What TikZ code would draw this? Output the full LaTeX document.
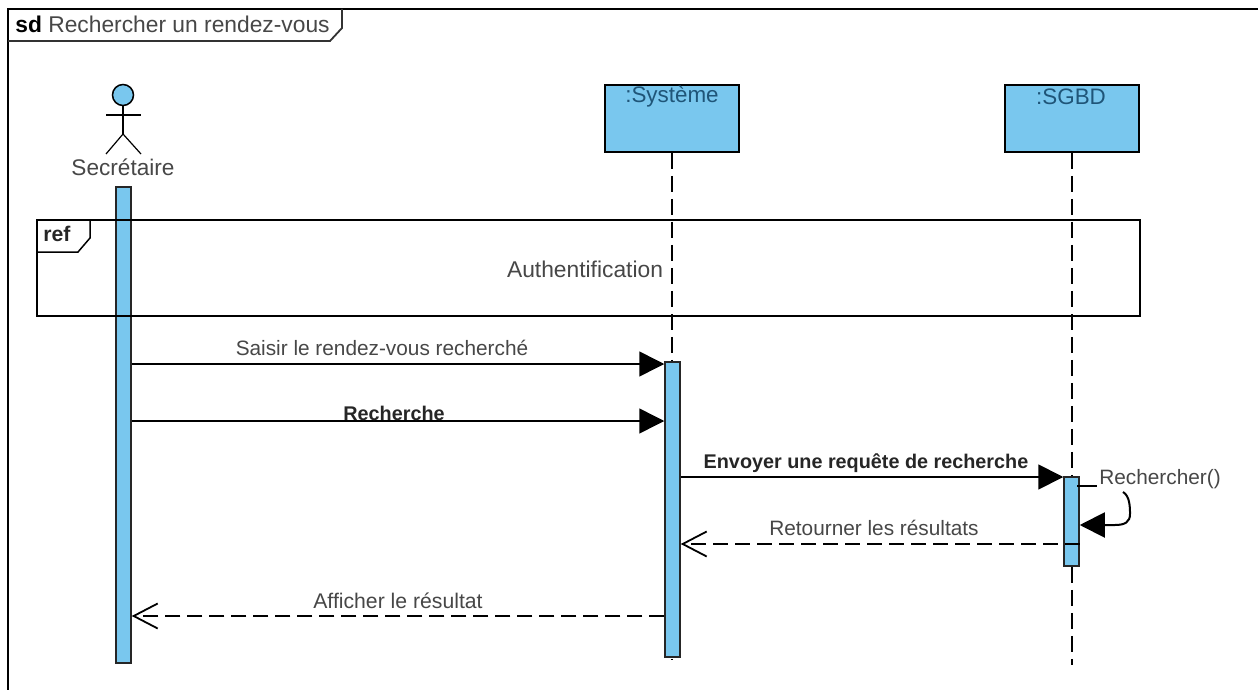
\documentclass[tikz,border=0pt]{standalone}
\usepackage{fontspec}
\setmainfont{Liberation Sans}
\usetikzlibrary{positioning}
\usetikzlibrary{arrows.meta}
\definecolor{uml-blue}{HTML}{79C7EE}
\definecolor{box-text}{HTML}{1F5578}
\colorlet{label}{black!72}
\tikzset{
  lifebox/.style={draw=black,fill=uml-blue,line width=0.75pt,minimum width=67pt,minimum height=33.5pt,inner sep=0pt},
  lifebar/.style={draw=black!85,fill=uml-blue,line width=0.75pt,minimum width=7.5pt,inner sep=0pt},
  lifeline/.style={line width=0.75pt,dash pattern=on 8pt off 3.5pt},
  msglabel/.style={text=label,font=\fontsize{10.4}{12}\selectfont,inner sep=0pt},
  boldlabel/.style={msglabel,text=black!85,font=\fontsize{9.9}{12}\selectfont\bfseries},
  boxlabel/.style={text=box-text,font=\fontsize{11.2}{13}\selectfont,inner sep=0pt},
  filledtip/.style={-{Triangle[length=12.5pt,width=12.5pt]}},
  opentip/.style={-{Straight Barb[length=12pt,width=12.5pt,line width=0.9pt]}}
}
\begin{document}
\begin{tikzpicture}[x=0.5pt,y=-0.5pt]
\useasboundingbox (0,0) rectangle (1258,690);
\fill[white] (0,0) rectangle (1258,690);
% outer frame
\draw[line width=1pt] (8,690) -- (8,9) -- (1258,9);
\draw[line width=0.9pt,draw=black!80] (8,41) -- (330,41) -- (342,28) -- (342,9);
\node[anchor=west,inner sep=0pt,text=label,font=\fontsize{11.4}{13}\selectfont] (sdlabel) at (15,24) {\textcolor{black}{\textbf{sd}} Rechercher un rendez-vous};
% actor
\node[circle,draw=black,fill=uml-blue,line width=0.75pt,minimum size=10.5pt,inner sep=0pt] (head) at (123,95) {};
\coordinate (hip) at (123,134);
\coordinate (armleft) at (106,115);
\coordinate (armright) at (141,115);
\coordinate (legleft) at (106,154);
\coordinate (legright) at (141,154);
\draw[line width=0.6pt] (head) -- (hip);
\draw[line width=0.6pt] (armleft) -- (armright);
\draw[line width=0.6pt] (legleft) -- (hip) -- (legright);
\node[msglabel,font=\fontsize{11.3}{13}\selectfont] (secretaire) at (123,167) {Secrétaire};
% lifelines
\node[lifebox] (systeme) at (672,118.5) {};
\node[lifebox] (sgbd) at (1072,118.5) {};
\node[boxlabel] (systemetext) at (672,97) {:Système};
\node[boxlabel] (sgbdtext) at (1071,97) {:SGBD};
\coordinate (systemeend) at (672,660);
\coordinate (sgbdend) at (1072,665);
\draw[lifeline] (systeme) -- (systemeend);
\draw[lifeline] (sgbd) -- (sgbdend);
% activations
\node[lifebar,minimum height=238pt] (secbar) at (123.5,425) {};
\node[lifebar,minimum height=147.5pt] (sysbar) at (672.5,509.5) {};
\node[lifebar,minimum height=44.5pt] (sgbdbar) at (1071.5,521.5) {};
% ref
\draw[line width=0.75pt] (37,220) rectangle (1140,316);
\draw[line width=0.75pt] (37,252) -- (78,252) -- (90,238) -- (90,220);
\node[anchor=west,inner sep=0pt,font=\fontsize{10.6}{12}\selectfont\bfseries,text=black!85] (reflabel) at (43,234) {ref};
\node[msglabel,font=\fontsize{11.4}{13}\selectfont] (authlabel) at (585,269) {Authentification};
% messages
\draw[line width=0.75pt,filledtip] (secbar.east |- 0,364) -- (sysbar.west |- 0,364);
\node[msglabel] (saisir) at (382,348) {Saisir le rendez-vous recherché};
\draw[line width=0.75pt,filledtip] (secbar.east |- 0,421) -- (sysbar.west |- 0,421);
\node[boldlabel] (recherche) at (394,413) {Recherche};
\draw[line width=0.9pt,filledtip] (sysbar.east |- 0,477) -- (sgbdbar.west |- 0,477);
\node[boldlabel] (envoyer) at (866,463) {Envoyer une requête de recherche};
\draw[line width=0.6pt,dash pattern=on 7.5pt off 3.5pt,opentip] (sgbdbar.east |- 0,544) -- (sysbar.east |- 0,544);
\node[msglabel] (retourner) at (874,528) {Retourner les résultats};
\draw[line width=0.6pt,dash pattern=on 7.5pt off 3.5pt,opentip] (sysbar.west |- 0,616) -- (secbar.east |- 0,616);
\node[msglabel,font=\fontsize{10.6}{12}\selectfont] (afficher) at (398,601) {Afficher le résultat};
% self message
\coordinate (selfstart) at (1077,486);
\coordinate (selfend) at (1097,486);
\draw[line width=0.75pt] (selfstart) -- (selfend);
\node[msglabel] (rechercher) at (1160,479) {Rechercher()};
\coordinate (selftop) at (1123,492);
\draw[line width=1pt,filledtip] (selftop) .. controls (1130,496) and (1130,508) .. (1130,514) .. controls (1130,522) and (1125,525) .. (1115,525) -- (sgbdbar.east |- 0,525);
\end{tikzpicture}
\end{document}
